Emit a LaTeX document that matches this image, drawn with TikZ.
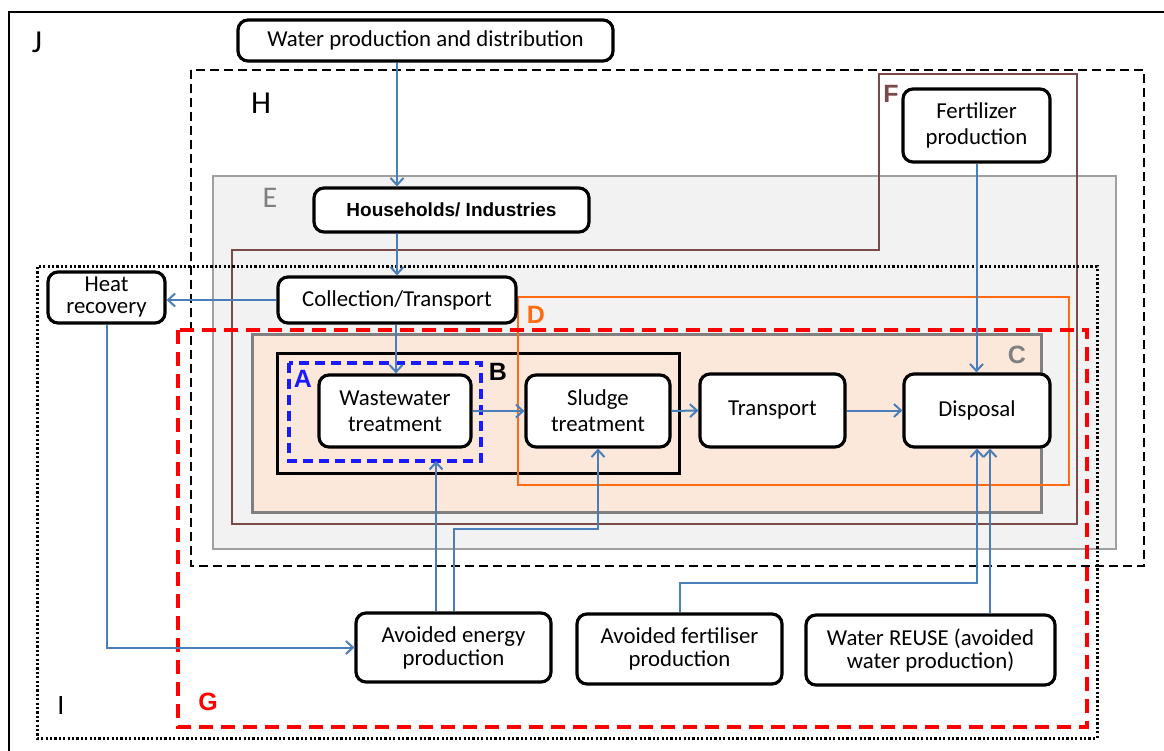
\documentclass[tikz,border=0pt]{standalone}
\usepackage{fontspec}
\setmainfont{Carlito}
\newfontfamily\arialf{Liberation Sans}
\usetikzlibrary{arrows.meta}
\definecolor{flowblue}{HTML}{4A7EBB}
\definecolor{fbrown}{HTML}{7A4A4A}
\definecolor{dorange}{HTML}{FF6A13}
\definecolor{cgray}{HTML}{808080}
\definecolor{egray}{HTML}{A0A0A0}
\definecolor{efill}{HTML}{F2F2F2}
\definecolor{cfill}{HTML}{FBE8DA}
\definecolor{ablue}{HTML}{1A1AFF}
\definecolor{gred}{HTML}{FF0000}
\begin{document}
\begin{tikzpicture}[x=1pt,y=-1pt,
  pbox/.style={draw=black, line width=3.2pt, rounded corners=10pt, fill=white,
    align=center, inner sep=0pt, font=\fontsize{22.8}{26}\selectfont},
  arr/.style={draw=flowblue, line width=2pt, -{Straight Barb[length=7pt,width=13pt]}},
  lbl/.style={inner sep=0pt, anchor=center},
  biglbl/.style={lbl, font=\fontsize{32}{32}\selectfont},
  boldlbl/.style={lbl, font=\arialf\bfseries\fontsize{25}{25}\selectfont},
]
\path[use as bounding box] (0,0) rectangle (1164,751);
\clip (0,0) rectangle (1164,751);
\fill[white] (0,0) rectangle (1164,751);

% J frame
\draw[line width=2.5pt] (9,770) -- (9,12) -- (1180,12);
\node[biglbl] (lJ) at (37,42) {J};

% E region
\draw[draw=egray, line width=2.5pt, fill=efill] (213,176) rectangle (1116,549);
\node[lbl, font=\fontsize{30}{30}\selectfont, text=cgray] (lE) at (270,198) {E};

% F region
\draw[draw=fbrown, line width=2pt] (232,524) -- (232,250) -- (879,250) -- (879,74)
  -- (1077,74) -- (1077,524) -- cycle;
\node[boldlbl, text=fbrown] (lF) at (891,94) {F};

% C region
\draw[draw=cgray, line width=3pt, fill=cfill] (252,334) rectangle (1041,512);
\node[boldlbl, text=cgray] (lC) at (1017,355) {C};

% B region
\draw[draw=black, line width=3pt] (277,353) rectangle (679,473);
\node[boldlbl, text=black] (lB) at (498,372) {B};

% D region
\draw[draw=dorange, line width=2.5pt] (518,297) rectangle (1069,485);
\node[boldlbl, text=dorange] (lD) at (536,315) {D};

% A region
\draw[draw=ablue, line width=3.2pt, dash pattern=on 10pt off 6pt] (289,363) rectangle (481,461);
\node[boldlbl, text=ablue] (lA) at (303,379) {A};

% H region
\draw[line width=2.5pt, dash pattern=on 9pt off 5pt] (191,70) rectangle (1144,566);
\node[biglbl] (lH) at (261,103) {H};

% I region
\draw[line width=3pt, dash pattern=on 2.2pt off 2.2pt] (37,267) rectangle (1097,738);
\node[lbl, font=\fontsize{28}{28}\selectfont] (lI) at (61,706) {I};

% G region
\draw[draw=gred, line width=4.5pt, dash pattern=on 14pt off 8pt] (178,330) rectangle (1087,727);
\node[boldlbl, text=gred] (lG) at (208,702) {G};

% process boxes
\node[pbox, minimum width=375pt, minimum height=41pt] (wp) at (425.5,40.5) {Water production and distribution};
\node[pbox, minimum width=275pt, minimum height=44pt, font=\arialf\bfseries\fontsize{19}{22}\selectfont] (hh) at (451.5,210) {Households/ Industries};
\node[pbox, minimum width=238pt, minimum height=46pt] (ct) at (397,300) {Collection/Transport};
\node[pbox, minimum width=117pt, minimum height=51pt, font=\fontsize{22.8}{22}\selectfont] (heat) at (106.5,297.5) {Heat\\recovery};
\node[pbox, minimum width=147pt, minimum height=73pt] (fert) at (976.5,125.5) {Fertilizer\\production};
\node[pbox, minimum width=152pt, minimum height=72pt] (ww) at (395,411) {Wastewater\\treatment};
\node[pbox, minimum width=144pt, minimum height=72pt] (sl) at (598,411) {Sludge\\treatment};
\node[pbox, minimum width=145pt, minimum height=73pt] (tr) at (772.5,410.5) {Transport};
\node[pbox, minimum width=146pt, minimum height=73pt] (disp) at (977,410.5) {Disposal};
\node[pbox, minimum width=195pt, minimum height=69pt, font=\fontsize{22.8}{23}\selectfont] (avE) at (453.5,647.5) {Avoided energy\\production};
\node[pbox, minimum width=205pt, minimum height=70pt, font=\fontsize{22.8}{23}\selectfont] (avF) at (679.5,649) {Avoided fertiliser\\production};
\node[pbox, minimum width=249pt, minimum height=70pt, font=\fontsize{22.8}{23}\selectfont] (reuse) at (930.5,650) {Water REUSE (avoided\\water production)};

% helper coordinates
\coordinate (xa) at (397,0);
\coordinate (xb) at (396,0);
\coordinate (aBot) at (436,461);
\coordinate (d2) at ([xshift=13pt]disp.south);

% connectors
\draw[arr] (wp.south -| xa) -- (hh.north -| xa);
\draw[arr] (hh.south -| xa) -- (ct.north -| xa);
\draw[arr] (ct.south -| xb) -- (ww.north -| xb);
\draw[arr] (ct.west) -- (ct.west -| heat.east);
\draw[arr] (ww.east) -- (sl.west);
\draw[arr] (sl.east) -- (tr.west);
\draw[arr] (tr.east) -- (disp.west);
\draw[arr] (fert.south) -- (fert.south |- disp.north);
\draw[arr] (heat.south) |- (avE.west);
\draw[arr] (avE.north -| aBot) -- (aBot);
\draw[arr] (avE.north) -- ++(0,-82) -| (sl.south);
\draw[arr] (avF.north) -- ++(0,-29) -| (disp.south);
\draw[arr] (reuse.north -| d2) -- (d2);
\end{tikzpicture}
\end{document}
